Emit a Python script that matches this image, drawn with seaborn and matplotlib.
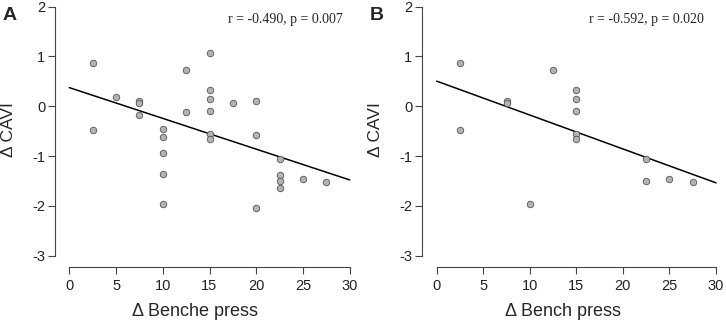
import numpy as np
import pandas as pd
import seaborn as sns
from matplotlib import pyplot as plt

# panel A data
bench_a = [2.5, 2.5, 5, 7.5, 7.5, 7.5, 10, 10, 10, 10, 10, 12.5, 12.5,
           15, 15, 15, 15, 15, 15, 17.5, 20, 20, 20, 22.5, 22.5, 22.5, 22.5, 25, 27.5]
cavi_a = [0.87, -0.48, 0.19, 0.10, 0.06, -0.17, -0.45, -0.62, -0.94, -1.36, -1.96, 0.73, -0.11,
          1.06, 0.33, 0.14, -0.10, -0.55, -0.65, 0.06, 0.11, -0.57, -2.04, -1.05, -1.37, -1.51, -1.65, -1.47, -1.52]

# panel B data
bench_b = [2.5, 2.5, 7.5, 7.5, 10, 12.5, 15, 15, 15, 15, 15, 22.5, 22.5, 25, 27.5]
cavi_b = [0.87, -0.48, 0.10, 0.06, -1.96, 0.73, 0.33, 0.14, -0.10, -0.55, -0.65, -1.05, -1.51, -1.47, -1.52]

stats_a = "r = -0.490, p = 0.007"
stats_b = "r = -0.592, p = 0.020"

sns.set_style("white")
plt.rcParams['font.family'] = ['Liberation Sans', 'DejaVu Sans']

W, H = 726, 323
fig = plt.figure(figsize=(W / 100, H / 100), dpi=100)


def make_axes(spine_px, x0_px, x30_px, xmax):
    # place axes so data coords land on the reference pixels
    ppu = (x30_px - x0_px) / 30
    xmin = -(x0_px - spine_px) / ppu
    right_px = x0_px + xmax * ppu
    ylo, yhi = -3.227, 2.10
    top_px, bot_px = 1.7, 267
    ax = fig.add_axes([spine_px / W, (H - bot_px) / H, (right_px - spine_px) / W, (bot_px - top_px) / H])
    return ax, (xmin, xmax), (ylo, yhi)


# x, y, stats, tag, xlabel, y spine px, x=0 px, x=30 px, xmax, stats right px, xlabel center px
panels = [
    (bench_a, cavi_a, stats_a, "A", "\u0394 Benche press", 55, 69.3, 349.7, 31.0, 343, 195),
    (bench_b, cavi_b, stats_b, "B", "\u0394 Bench press", 422, 436.7, 716, 30.8, 704, 563),
]

for x, y, txt, tag, xlab, spx, x0, x30, xmax, txr, xlc in panels:
    ax, xl, yl = make_axes(spx, x0, x30, xmax)
    df = pd.DataFrame({"bench": x, "cavi": y})
    ax.set_xlim(0, 30)
    sns.regplot(data=df, x="bench", y="cavi", ax=ax, ci=None, scatter=False, truncate=False,
                line_kws={"color": "black", "lw": 1.1})
    sns.scatterplot(data=df, x="bench", y="cavi", ax=ax, color="#b3b3b3", edgecolor="#555555",
                    linewidth=0.6, s=22, zorder=3)
    ax.set_xlim(*xl)
    ax.set_ylim(*yl)
    ax.set_xticks([0, 5, 10, 15, 20, 25, 30])
    ax.set_yticks([-3, -2, -1, 0, 1, 2])
    ax.set_yticklabels(["-3", "-2", "-1", "0", "1", "2"])
    for s in ["top", "right"]:
        ax.spines[s].set_visible(False)
    ax.spines["left"].set_bounds(-3, 2)
    ax.spines["bottom"].set_bounds(0, 30)
    for s in ["left", "bottom"]:
        ax.spines[s].set_color("#444444")
        ax.spines[s].set_linewidth(0.8)
    ax.tick_params(axis="both", direction="out", length=5, width=0.8, color="#444444",
                   labelsize=10.5, labelcolor="#222222", left=True, bottom=True)
    ax.tick_params(axis="x", pad=4)
    ax.tick_params(axis="y", pad=2)
    ax.set_xlabel("")
    ax.set_ylabel("")
    fig.text(txr / W, 1 - 19 / H, txt, ha="right", va="center",
             family="Liberation Serif", fontsize=10)
    fig.text((spx - 52) / W, 1 - 15 / H, tag, fontsize=14, fontweight="bold", ha="left", va="center")
    fig.text((spx - 46) / W, 1 - 130 / H, "\u0394 CAVI", rotation=90, fontsize=12.5, ha="center", va="center")
    fig.text(xlc / W, 1 - 312 / H, xlab, fontsize=13, ha="center", va="center")

plt.savefig("out.png", dpi=100)
